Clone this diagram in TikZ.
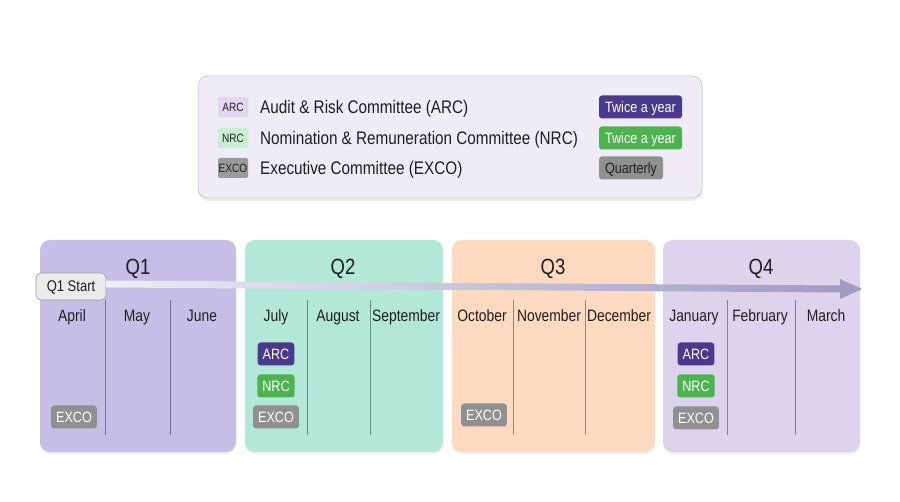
\documentclass[tikz,border=0pt]{standalone}
\usepackage{fontspec}
\setmainfont{Liberation Sans}[FakeStretch=0.84]
\usetikzlibrary{shadows}

\definecolor{qone}{HTML}{C6BEE6}
\definecolor{qtwo}{HTML}{B3E7D8}
\definecolor{qthree}{HTML}{FDDAC0}
\definecolor{qfour}{HTML}{DDD3EC}
\definecolor{arc}{HTML}{4A3A8E}
\definecolor{nrc}{HTML}{4DB34F}
\definecolor{exco}{HTML}{909090}
\definecolor{arctag}{HTML}{E4D6EE}
\definecolor{nrctag}{HTML}{C9EFD3}
\definecolor{excotag}{HTML}{9B9B9B}
\definecolor{legendbg}{HTML}{EFECF8}
\definecolor{ink}{HTML}{1E1E1E}
\definecolor{barstart}{HTML}{EEECF5}
\definecolor{barend}{HTML}{9C9AC0}
\newcommand\fsz[1]{\fontsize{#1}{#1}\selectfont}

\tikzset{
  quarter/.style={rounded corners=10pt, fill=#1, minimum height=212pt, inner sep=0pt,
    drop shadow={opacity=0.12, shadow xshift=0pt, shadow yshift=-2pt}},
  qlabel/.style={text=ink, font=\fsz{22}, text height=15.7pt, text depth=0pt},
  month/.style={text=ink, font=\fsz{16.5}, text height=11.8pt, text depth=0pt},
  divider/.style={draw=#1!60!black, line width=0.6pt},
  badge/.style={rounded corners=3pt, fill=#1, text=white, font=\fsz{15},
    minimum height=23pt, inner xsep=5pt, inner ysep=0pt, text height=10.7pt, text depth=0pt},
  tag/.style={rounded corners=2pt, fill=#1, text=ink, font=\fsz{12},
    minimum width=30pt, minimum height=20pt, inner sep=0pt, text height=8.6pt, text depth=0pt},
  legtext/.style={anchor=west, text=ink, font=\fsz{18.2}, inner xsep=0pt, inner ysep=0pt,
    text height=13pt, text depth=0pt},
}

\begin{document}
\begin{tikzpicture}[x=1pt, y=-1pt]
\useasboundingbox[fill=white] (0,0) rectangle (900,502);

\node[rounded corners=10pt, fill=legendbg, draw=black!25, line width=0.5pt,
  minimum width=504pt, minimum height=122pt,
  drop shadow={opacity=0.15, shadow xshift=0pt, shadow yshift=-3pt}] (legend) at (450,137) {};
\node[tag=arctag] (tarc) at (233,107) {ARC};
\node[tag=nrctag] (tnrc) at (233,138) {NRC};
\node[tag=excotag] (texco) at (233,168) {EXCO};
\node[legtext] (larc) at (260,107) {Audit \& Risk Committee (ARC)};
\node[legtext] (lnrc) at (260,138) {Nomination \& Remuneration Committee (NRC)};
\node[legtext] (lexco) at (260,168) {Executive Committee (EXCO)};
\node[badge=arc, minimum width=83pt] (farc) at (640.5,107) {Twice a year};
\node[badge=nrc, minimum width=83pt] (fnrc) at (640.5,138) {Twice a year};
\node[badge=exco, text=ink, minimum width=64pt] (fexco) at (631,168) {Quarterly};

\node[quarter=qone, minimum width=196pt] (q1) at (138,346) {};
\node[quarter=qtwo, minimum width=198pt] (q2) at (344,346) {};
\node[quarter=qthree, minimum width=203pt] (q3) at (553.5,346) {};
\node[quarter=qfour, minimum width=197pt] (q4) at (761.5,346) {};

\node[qlabel] at (138,267) {Q1};
\node[qlabel] at (343,267) {Q2};
\node[qlabel] at (553,267) {Q3};
\node[qlabel] at (761,267) {Q4};

\foreach \x in {105,170} \draw[divider=qone] (\x,300) -- (\x,435);
\foreach \x in {307,370} \draw[divider=qtwo] (\x,300) -- (\x,435);
\foreach \x in {513,585} \draw[divider=qthree] (\x,300) -- (\x,435);
\foreach \x in {727,795} \draw[divider=qfour] (\x,300) -- (\x,435);

\foreach \x/\m in {72/April, 137/May, 202/June, 276/July, 338/August, 406/September,
  482/October, 549/November, 619/December, 694/January, 760/February, 826/March}
  \node[month] at (\x,316) {\m};

\node[rounded corners=5pt, fill=black!8, draw=black!40, line width=0.6pt, text=ink,
  font=\fsz{15.5}, minimum width=70pt, minimum height=27pt, inner sep=0pt,
  text height=11pt, text depth=0pt] (qs) at (71,286.5) {Q1 Start};
\coordinate (tend) at (862,289);
\shade[left color=barstart, right color=barend]
  ([yshift=-1]qs.east) -- ([xshift=-22,yshift=-3.5]tend) -- ([xshift=-22,yshift=-10]tend)
  -- (tend) -- ([xshift=-22,yshift=10]tend) -- ([xshift=-22,yshift=3.5]tend)
  -- ([yshift=6]qs.east) -- cycle;

\node[badge=exco] (e1) at (74,417) {EXCO};
\node[badge=arc] (a2) at (276,354) {ARC};
\node[badge=nrc] (n2) at (276,386) {NRC};
\node[badge=exco] (e2) at (276,417) {EXCO};
\node[badge=exco] (e3) at (484,415) {EXCO};
\node[badge=arc] (a4) at (696,354) {ARC};
\node[badge=nrc] (n4) at (696,386) {NRC};
\node[badge=exco] (e4) at (696,418) {EXCO};
\end{tikzpicture}
\end{document}
